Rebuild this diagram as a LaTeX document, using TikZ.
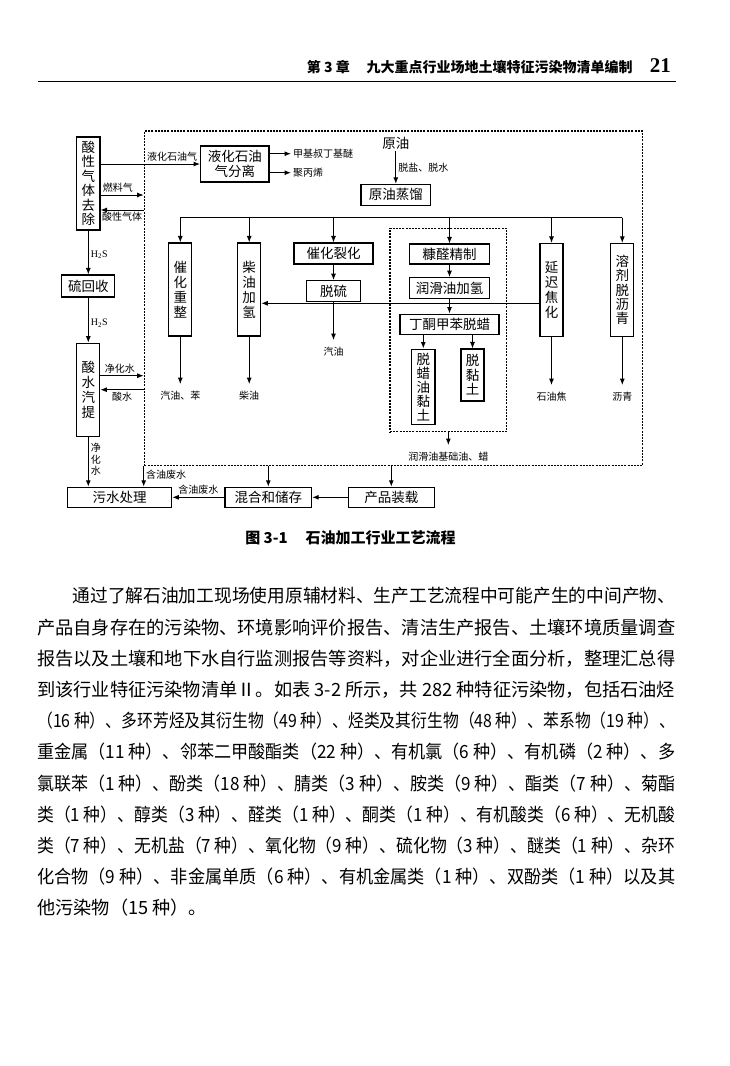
\documentclass[tikz,border=0pt]{standalone}
\usepackage{fontspec}
\usepackage{graphicx}
\newfontfamily\cjk{Noto Sans CJK SC}
\newfontfamily\numfont{Liberation Serif}
\usetikzlibrary{calc, arrows.meta}

\begin{document}
\begin{tikzpicture}[x=1pt, y=-1pt,
    box/.style={draw, line width=1.1pt, inner sep=0pt, align=center, font=\cjk\fontsize{13.5}{15}\selectfont},
    tallbox/.style={box, minimum width=23pt, minimum height=93pt},
    lab/.style={font=\cjk\fontsize{10}{11.5}\selectfont, inner sep=2pt},
    prod/.style={lab, outer ysep=5pt},
    arr/.style={-{Latex[length=6.5pt, width=5pt]}, line width=1pt},
    plantframe/.style={draw, line width=1.2pt, dash pattern=on 2pt off 1.2pt, inner sep=0pt},
    bodyline/.style={anchor=west, inner sep=0pt, font=\cjk\fontsize{18.2}{20}\selectfont}
]

    \fill[white] (0,0) rectangle (730,1066);

    % Page head
    \node[anchor=west, inner sep=0pt, font=\cjk\bfseries\fontsize{14}{16}\selectfont] (chapter) at (306.7,67) {第 3 章\hspace{1.2em}九大重点行业场地土壤特征污染物清单编制};
    \node[anchor=east, inner sep=0pt, font=\numfont\bfseries\fontsize{21}{24}\selectfont] (pageno) at (671,66) {21};
    \coordinate (ruleL) at (38,81);
    \coordinate (ruleR) at (676,81);
    \draw[line width=0.8pt] (ruleL) -- (ruleR);

    % Draw the frames
    \node[plantframe, minimum width=498pt, minimum height=334.7pt] (plant) at (393.3,298.35) {};
    \node[plantframe, minimum width=116.7pt, minimum height=203.4pt] (lubebox) at (448.35,330) {};

    % Draw nodes
    \node[box, minimum width=23.3pt, minimum height=93pt, font=\cjk\fontsize{13.5}{14.5}\selectfont] (acidgas) at (88.3,183.5) {酸\\性\\气\\体\\去\\除};
    \node[box, minimum width=53pt, minimum height=22pt] (sulfur) at (88.3,286) {硫回收};
    \node[tallbox] (sourwater) at (88.3,389.7) {酸\\水\\汽\\提};
    \node[box, minimum width=104.4pt, minimum height=20pt] (sewage) at (119.5,497.3) {污水处理};
    \node[box, minimum width=86.7pt, minimum height=20pt] (mixing) at (268.3,497.3) {混合和储存};
    \node[box, minimum width=86pt, minimum height=20pt] (loading) at (391.3,497.3) {产品装载};

    \node[box, minimum width=68.3pt, minimum height=36pt] (lpgsep) at (234.8,164) {液化石油\\气分离};
    \node[inner sep=1pt, font=\cjk\fontsize{13.5}{15}\selectfont] (crude) at (395.8,143.3) {原油};
    \node[box, minimum width=69.7pt, minimum height=20.7pt] (distill) at (395.8,194.7) {原油蒸馏};

    \node[tallbox] (reform) at (180.3,289.5) {催\\化\\重\\整};
    \node[tallbox] (dieselhyd) at (249.2,289.5) {柴\\油\\加\\氢};
    \node[box, minimum width=79pt, minimum height=21pt] (fcc) at (333.5,253.5) {催化裂化};
    \node[box, minimum width=54pt, minimum height=21pt] (desulf) at (333.5,291.2) {脱硫};
    \node[box, minimum width=79.7pt, minimum height=20pt] (furfural) at (449.5,254) {糠醛精制};
    \node[box, minimum width=79.7pt, minimum height=20.6pt] (lubehyd) at (449.5,288) {润滑油加氢};
    \node[box, minimum width=99pt, minimum height=20.3pt] (dewax) at (449.5,324.2) {丁酮甲苯脱蜡};
    \node[box, minimum width=23.3pt, minimum height=75.3pt, font=\cjk\fontsize{13.5}{14}\selectfont] (dewaxclay) at (423.3,386.7) {脱\\蜡\\油\\黏\\土};
    \node[box, minimum width=23pt, minimum height=52pt, font=\cjk\fontsize{13.5}{14.5}\selectfont] (declay) at (472.5,375) {脱\\黏\\土};
    \node[tallbox] (coking) at (551.5,290) {延\\迟\\焦\\化};
    \node[tallbox, font=\cjk\fontsize{13.5}{14.2}\selectfont] (deasph) at (622.3,290) {溶\\剂\\脱\\沥\\青};

    % Products
    \node[lab, anchor=west] (mtbe) at (291,153.7) {甲基叔丁基醚};
    \node[lab, anchor=west] (pp) at (291,172.7) {聚丙烯};
    \node[prod] (gasbenz) at (180.3,395.7) {汽油、苯};
    \node[prod] (diesel) at (249.2,395.7) {柴油};
    \node[prod] (gasoline) at (333.5,351.7) {汽油};
    \node[prod] (coke) at (551.5,396.7) {石油焦};
    \node[prod] (asphalt) at (622.3,396.7) {沥青};
    \node[prod] (lubeoil) at (448.35,456.7) {润滑油基础油、蜡};

    % Draw arrows
    \coordinate (busL) at (180.3,217.7);
    \coordinate (busR) at (622.3,217.7);
    \draw[arr] (busR) -- (busL) -- (reform.north);
    \foreach \n in {dieselhyd, fcc, furfural, coking, deasph}
        \draw[arr] (\n.north |- busL) -- (\n.north);

    \draw[arr] (crude.south) -- node[lab, right] {脱盐、脱水} (crude.south |- distill.north);
    \draw[arr] (fcc) -- (desulf);
    \draw[arr] (furfural) -- (lubehyd);
    \draw[arr] (lubehyd) -- (dewax);
    \draw[arr] (dewax.south -| dewaxclay.north) -- (dewaxclay.north);
    \draw[arr] (dewax.south -| declay.north) -- (declay.north);
    \draw[arr] ($(coking.west)+(0,13.3)$) coordinate (hl) -- (hl -| dieselhyd.east);

    \draw[arr] (reform) -- (gasbenz);
    \draw[arr] (dieselhyd) -- (diesel);
    \draw[arr] (desulf) -- (gasoline);
    \draw[arr] (coking) -- (coke);
    \draw[arr] (deasph) -- (asphalt);
    \draw[arr] (lubebox) -- (lubeoil);
    \draw[arr] (lpgsep.east |- mtbe.west) -- (mtbe.west);
    \draw[arr] (lpgsep.east |- pp.west) -- (pp.west);

    \draw[arr] (acidgas.east |- lpgsep.west) -- node[lab, above, pos=0.72] {液化石油气} (lpgsep.west);
    \draw[arr] ($(acidgas.east)+(0,11.5)$) coordinate (fg) -- node[lab, above, pos=0.4] {燃料气} (fg -| plant.west);
    \path ($(acidgas.east)+(0,26.5)$) coordinate (ag);
    \draw[arr] (ag -| plant.west) -- node[lab, below] {酸性气体} (ag);
    \draw[arr] (acidgas) -- node[lab, right, pos=0.55] {\numfont H\textsubscript{2}S} (sulfur);
    \draw[arr] (sulfur) -- node[lab, right, pos=0.57] {\numfont H\textsubscript{2}S} (sourwater);
    \path ($(sourwater.east)+(0,-14)$) coordinate (pw);
    \draw[arr] (pw) -- node[lab, above, pos=0.45] {净化水} (pw -| plant.west);
    \draw[arr] (sourwater.east -| plant.west) -- node[lab, below] {酸水} (sourwater.east);
    \draw[arr] (sourwater.south) -- node[lab, right, align=center, pos=0.45, font=\cjk\fontsize{10}{11.7}\selectfont] {净\\化\\水} (sourwater.south |- sewage.north);

    \draw[arr] (plant.south west) -- node[lab, right, pos=0.4] {含油废水} (plant.south west |- sewage.north);
    \draw[arr] (plant.south -| mixing.north) -- (mixing.north);
    \draw[arr] (plant.south -| loading.north) -- (loading.north);
    \draw[arr] (loading) -- (mixing);
    \draw[arr] (mixing) -- node[lab, above] {含油废水} (sewage);

    % Caption and text
    \node[font=\cjk\bfseries\fontsize{15}{17}\selectfont] (caption) at (350.5,538) {图 3-1\hspace{1.2em}石油加工行业工艺流程};

    \foreach \k/\t in {
        0/{\hspace{2em}通过了解石油加工现场使用原辅材料、生产工艺流程中可能产生的中间产物、},
        1/{产品自身存在的污染物、环境影响评价报告、清洁生产报告、土壤环境质量调查},
        2/{报告以及土壤和地下水自行监测报告等资料，对企业进行全面分析，整理汇总得},
        3/{到该行业特征污染物清单Ⅱ。如表 3-2 所示，共 282 种特征污染物，包括石油烃},
        4/{（16 种）、多环芳烃及其衍生物（49 种）、烃类及其衍生物（48 种）、苯系物（19 种）、},
        5/{重金属（11 种）、邻苯二甲酸酯类（22 种）、有机氯（6 种）、有机磷（2 种）、多},
        6/{氯联苯（1 种）、酚类（18 种）、腈类（3 种）、胺类（9 种）、酯类（7 种）、菊酯},
        7/{类（1 种）、醇类（3 种）、醛类（1 种）、酮类（1 种）、有机酸类（6 种）、无机酸},
        8/{类（7 种）、无机盐（7 种）、氧化物（9 种）、硫化物（3 种）、醚类（1 种）、杂环},
        9/{化合物（9 种）、非金属单质（6 种）、有机金属类（1 种）、双酚类（1 种）以及其}}
        \node[bodyline] (line\k) at (37,{596+31.2*\k}) {\resizebox{638pt}{\height}{\t}};
    \node[bodyline] (line10) at (37,908) {他污染物（15 种）。};

\end{tikzpicture}
\end{document}
